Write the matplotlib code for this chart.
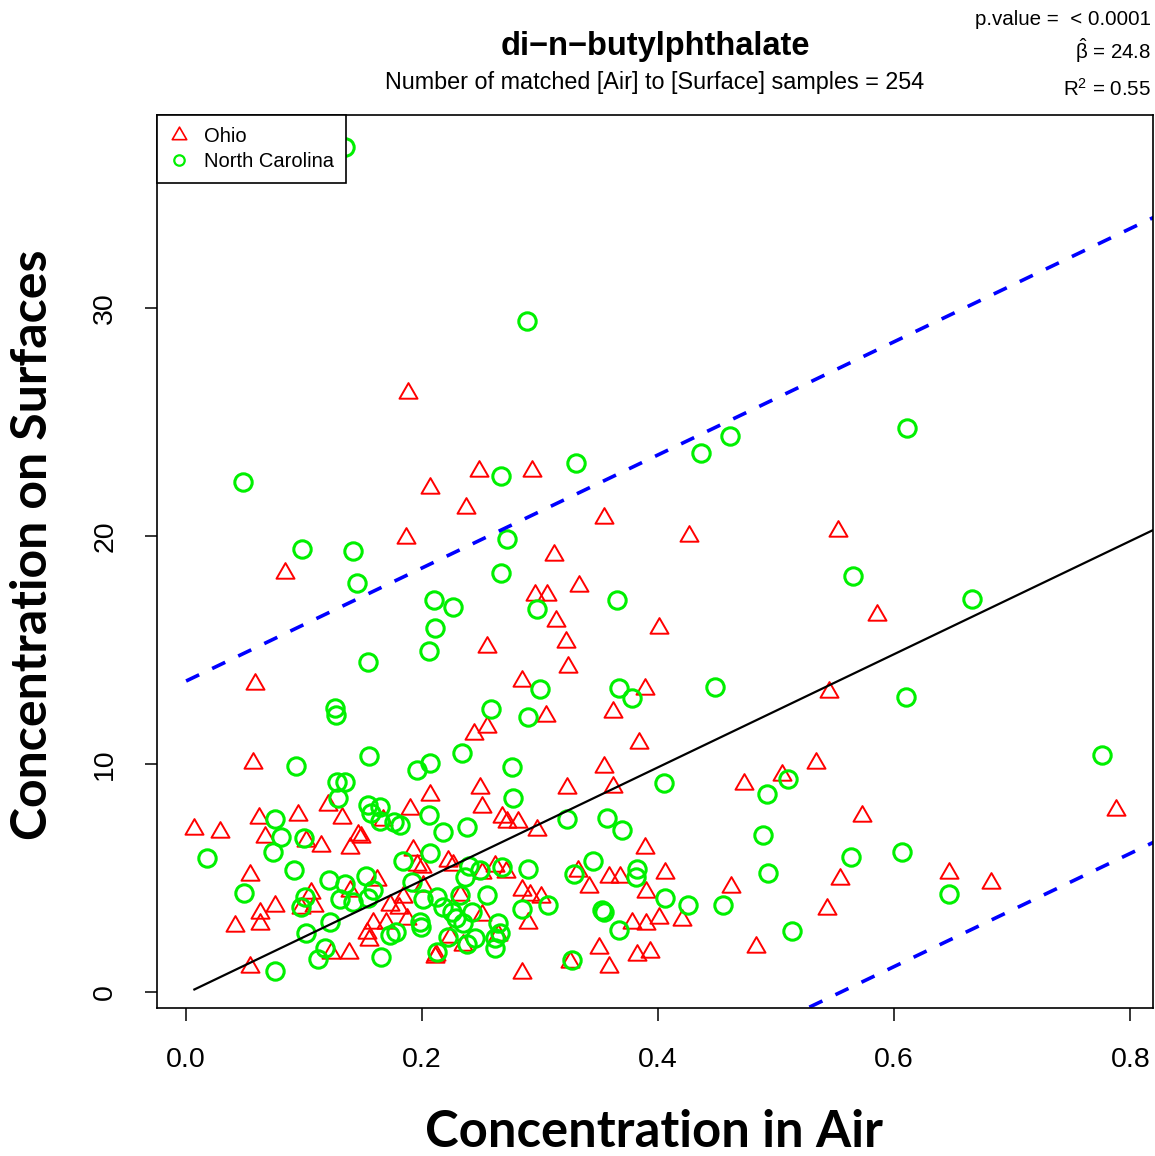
import matplotlib
matplotlib.use("Agg")
import matplotlib.pyplot as plt
import numpy as np
from matplotlib.lines import Line2D
from matplotlib.path import Path

# ==========================================
# data
# ==========================================

ohio_air = [
    0.188, 0.207, 0.186, 0.084, 0.237, 0.248, 0.293, 0.354, 0.312, 0.333,
    0.296, 0.306, 0.313, 0.322, 0.324, 0.255, 0.285, 0.305, 0.362, 0.389,
    0.401, 0.426, 0.552, 0.585, 0.545, 0.058, 0.057, 0.255, 0.244, 0.384,
    0.354, 0.362, 0.323, 0.473, 0.505, 0.534, 0.573, 0.788, 0.249, 0.207,
    0.251, 0.190, 0.120, 0.095, 0.062, 0.132, 0.007, 0.029, 0.297, 0.067,
    0.146, 0.148, 0.139, 0.114, 0.102, 0.167, 0.268, 0.272, 0.281, 0.192,
    0.196, 0.222, 0.226, 0.200, 0.251, 0.262, 0.271, 0.332, 0.358, 0.368,
    0.341, 0.389, 0.406, 0.390, 0.285, 0.291, 0.301, 0.232, 0.201, 0.251,
    0.290, 0.378, 0.390, 0.401, 0.420, 0.224, 0.235, 0.264, 0.212, 0.350,
    0.382, 0.393, 0.325, 0.358, 0.285, 0.054, 0.041, 0.063, 0.063, 0.075,
    0.106, 0.108, 0.097, 0.139, 0.162, 0.184, 0.173, 0.180, 0.187, 0.158,
    0.169, 0.153, 0.155, 0.123, 0.138, 0.054, 0.211, 0.462, 0.554, 0.543,
    0.483, 0.646, 0.682,
]
ohio_surface = [
    26.27, 22.11, 19.91, 18.38, 21.23, 22.85, 22.85, 20.79, 19.17, 17.81,
    17.41, 17.41, 16.27, 15.35, 14.25, 15.13, 13.64, 12.11, 12.28, 13.29,
    15.96, 20.00, 20.22, 16.54, 13.16, 13.51, 10.04, 11.62, 11.32, 10.92,
    9.87, 8.99, 8.95, 9.12, 9.52, 10.04, 7.72, 7.98, 8.95, 8.64,
    8.11, 8.03, 8.20, 7.76, 7.63, 7.63, 7.15, 7.02, 7.11, 6.80,
    6.89, 6.80, 6.32, 6.40, 6.62, 7.54, 7.68, 7.46, 7.46, 6.23,
    5.57, 5.75, 5.57, 5.48, 5.22, 5.53, 5.26, 5.31, 5.04, 5.04,
    4.61, 6.32, 5.22, 4.39, 4.47, 4.25, 4.17, 4.25, 4.65, 3.38,
    3.03, 3.03, 2.98, 3.25, 3.16, 2.41, 2.06, 2.50, 1.62, 1.93,
    1.62, 1.75, 1.32, 1.10, 0.83, 5.13, 2.89, 3.46, 2.98, 3.77,
    4.34, 3.77, 3.68, 4.43, 4.91, 4.17, 3.82, 3.68, 3.20, 3.03,
    3.03, 2.59, 2.28, 1.71, 1.71, 1.10, 1.54, 4.61, 4.96, 3.64,
    1.97, 5.22, 4.78,
]

nc_air = [
    0.135, 0.289, 0.048, 0.330, 0.267, 0.436, 0.461, 0.611, 0.098, 0.141,
    0.145, 0.272, 0.267, 0.210, 0.226, 0.211, 0.206, 0.365, 0.297, 0.154,
    0.126, 0.127, 0.565, 0.666, 0.300, 0.367, 0.378, 0.448, 0.610, 0.258,
    0.290, 0.234, 0.207, 0.276, 0.405, 0.277, 0.776, 0.492, 0.510, 0.489,
    0.493, 0.455, 0.513, 0.563, 0.607, 0.646, 0.093, 0.155, 0.196, 0.128,
    0.135, 0.129, 0.154, 0.164, 0.157, 0.164, 0.176, 0.181, 0.206, 0.218,
    0.075, 0.080, 0.074, 0.018, 0.100, 0.091, 0.049, 0.101, 0.097, 0.121,
    0.135, 0.130, 0.141, 0.152, 0.158, 0.154, 0.122, 0.102, 0.118, 0.112,
    0.075, 0.165, 0.184, 0.191, 0.201, 0.207, 0.213, 0.198, 0.199, 0.173,
    0.178, 0.213, 0.218, 0.222,
    0.238, 0.323, 0.357, 0.369, 0.236, 0.240, 0.249, 0.268, 0.290, 0.329,
    0.345, 0.382, 0.381, 0.406, 0.425, 0.232, 0.225, 0.229, 0.242, 0.235,
    0.255, 0.285, 0.307, 0.352, 0.354, 0.367, 0.264, 0.266, 0.262, 0.262,
    0.245, 0.238, 0.327,
]
nc_surface = [
    37.06, 29.43, 22.37, 23.20, 22.63, 23.64, 24.39, 24.74, 19.43, 19.34,
    17.94, 19.87, 18.38, 17.19, 16.89, 15.96, 14.96, 17.19, 16.80, 14.47,
    12.46, 12.15, 18.25, 17.24, 13.29, 13.33, 12.89, 13.38, 12.94, 12.41,
    12.06, 10.48, 10.04, 9.87, 9.17, 8.51, 10.39, 8.68, 9.34, 6.89,
    5.22, 3.82, 2.68, 5.92, 6.14, 4.30, 9.91, 10.35, 9.74, 9.21,
    9.21, 8.51, 8.20, 8.11, 7.85, 7.50, 7.46, 7.32, 7.76, 7.02,
    7.59, 6.80, 6.14, 5.88, 6.75, 5.35, 4.34, 4.17, 3.73, 4.91,
    4.74, 4.08, 3.95, 5.09, 4.47, 4.12, 3.07, 2.59, 1.93, 1.45,
    0.92, 1.54, 5.75, 4.82, 4.08, 6.10, 4.17, 3.07, 2.85, 2.50,
    2.63, 1.75, 3.73, 2.41,
    7.24, 7.59, 7.63, 7.11, 5.04, 5.53, 5.35, 5.48, 5.39, 5.18,
    5.75, 5.39, 5.04, 4.12, 3.82, 4.25, 3.51, 3.25, 3.51, 3.03,
    4.25, 3.64, 3.82, 3.60, 3.51, 2.72, 3.03, 2.59, 2.37, 1.93,
    2.37, 2.11, 1.40,
]

# fit shown on the chart
INTERCEPT = -0.06
BETA = 24.8
PI_HALF = 13.7   # half width of the dashed band
N_SAMPLES = 254

x_ticks = [0.0, 0.2, 0.4, 0.6, 0.8]
x_ticklabels = ["0.0", "0.2", "0.4", "0.6", "0.8"]
y_ticks = [0, 10, 20, 30]

# ==========================================
# plot
# ==========================================

FONT = ["Liberation Sans", "DejaVu Sans"]
LABEL_FONT = ["Lato", "DejaVu Sans"]

plt.rcParams["mathtext.fontset"] = "custom"
plt.rcParams["mathtext.rm"] = "Liberation Sans"
plt.rcParams["mathtext.it"] = "Liberation Sans"

# R style pch=2 triangle (equilateral, centred)
tri = Path([(0, 1), (-0.866, -0.5), (0.866, -0.5), (0, 1)], closed=True)

fig = plt.figure(figsize=(11.55, 11.56), dpi=100)
ax = fig.add_axes([0.136, 0.128, 0.862, 0.7725])

ax.plot(ohio_air, ohio_surface, linestyle="none", marker=tri, markersize=15,
        markerfacecolor="none", markeredgecolor="#ff0000", markeredgewidth=1.4)
ax.plot(nc_air, nc_surface, linestyle="none", marker="o", markersize=12.5,
        markerfacecolor="none", markeredgecolor="#00f000", markeredgewidth=2.2)

xs = np.array([min(min(ohio_air), min(nc_air)), 0.9])
ax.plot(xs, INTERCEPT + BETA * xs, color="black", linewidth=1.6)
xb = np.array([0.0, 0.9])
for sign in (1, -1):
    ax.plot(xb, INTERCEPT + BETA * xb + sign * PI_HALF, color="#0000ff",
            linewidth=2.6, dashes=(4, 4), dash_capstyle="butt")

ax.set_xlim(-0.0246, 0.819)
ax.set_ylim(-0.70, 38.46)
ax.set_xticks(x_ticks)
ax.set_xticklabels(x_ticklabels, fontsize=20.5, family=FONT)
ax.set_yticks(y_ticks)
ax.set_yticklabels([str(v) for v in y_ticks], fontsize=20.5, family=FONT,
                   rotation=90, va="center")
ax.tick_params(axis="both", direction="out", length=9, width=1.1, pad=19)
for sp in ax.spines.values():
    sp.set_linewidth(1.2)

handles = [
    Line2D([], [], linestyle="none", marker=tri, markersize=12,
           markerfacecolor="none", markeredgecolor="#ff0000", markeredgewidth=1.2),
    Line2D([], [], linestyle="none", marker="o", markersize=7.5,
           markerfacecolor="none", markeredgecolor="#00f000", markeredgewidth=1.6),
]
leg = ax.legend(handles, ["Ohio", "North Carolina"], loc="upper left",
                bbox_to_anchor=(0, 1), borderaxespad=0, fancybox=False,
                framealpha=1, edgecolor="black", handlelength=1.0,
                handletextpad=0.75, labelspacing=0.3, borderpad=0.6,
                prop={"family": FONT, "size": 14.5})
leg.get_frame().set_linewidth(1.2)

fig.text(0.567, 0.960, "di\u2212n\u2212butylphthalate", ha="center", va="center",
         fontsize=23.5, fontweight="bold", family=FONT)
fig.text(0.567, 0.929,
         f"Number of matched [Air] to [Surface] samples = {N_SAMPLES}",
         ha="center", va="center", fontsize=16.8, family=FONT)

fig.text(0.9965, 0.983, "p.value =  < 0.0001", ha="right", va="center",
         fontsize=14.8, family=FONT)
fig.text(0.9965, 0.956, r"$\hat{\beta}$ = " + f"{BETA}", ha="right", va="center",
         fontsize=14.8, family=FONT)
fig.text(0.9965, 0.923, r"R$^2$ = 0.55", ha="right", va="center",
         fontsize=14.8, family=FONT)

fig.text(0.566, 0.020, "Concentration in Air", ha="center", va="center",
         fontsize=36.5, fontweight="bold", family=LABEL_FONT)
fig.text(0.028, 0.5285, "Concentration on Surfaces", ha="center", va="center",
         rotation=90, fontsize=36, fontweight="bold", family=LABEL_FONT)

fig.savefig("out.png", dpi=100)
